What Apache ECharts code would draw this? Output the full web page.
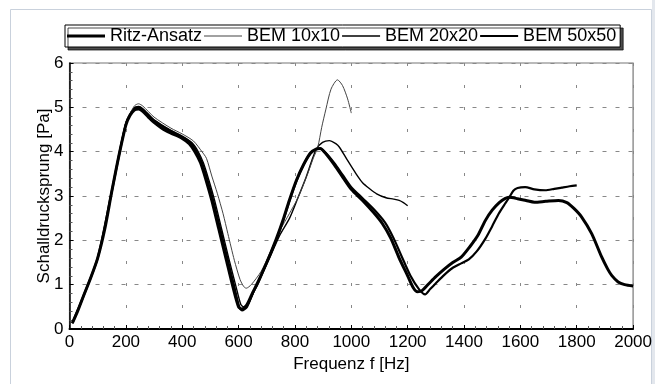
<!DOCTYPE html>
<html>
<head>
<meta charset="utf-8">
<script src="https://cdn.jsdelivr.net/npm/echarts@6/dist/echarts.min.js"></script>
<style>
  html, body { margin: 0; padding: 0; background: #fff; }
  #chart { width: 655px; height: 384px; }
</style>
</head>
<body>
<div id="chart"></div>
<script>
// Schalldrucksprung über Frequenz, [f in Hz, Wert in Pa]
var ritzAnsatz = [
  [10,0.13],[30,0.42],[50,0.75],[75,1.15],[100,1.6],[125,2.25],[150,3.1],[175,3.9],[200,4.6],
  [215,4.82],[230,4.94],[245,4.96],[260,4.91],[280,4.78],[300,4.66],[330,4.52],[360,4.42],
  [400,4.3],[425,4.18],[445,4.0],[465,3.75],[485,3.35],[505,2.9],[530,2.25],[555,1.6],
  [580,0.95],[600,0.5],[612,0.45],[630,0.55],[650,0.82],[668,1.05],[700,1.5],[733,2.02],
  [760,2.5],[780,2.9],[805,3.35],[830,3.7],[855,3.97],[875,4.06],[890,4.07],[910,3.95],
  [940,3.7],[970,3.42],[1000,3.15],[1040,2.9],[1080,2.62],[1110,2.38],[1140,2.05],[1170,1.6],
  [1200,1.2],[1220,0.93],[1235,0.84],[1250,0.86],[1275,1.02],[1300,1.18],[1330,1.35],
  [1360,1.5],[1390,1.62],[1420,1.85],[1450,2.12],[1476,2.45],[1500,2.68],[1525,2.85],
  [1545,2.94],[1560,2.97],[1590,2.94],[1620,2.9],[1650,2.86],[1690,2.88],[1735,2.9],
  [1765,2.85],[1790,2.72],[1817,2.53],[1853,2.15],[1888,1.63],[1910,1.35],[1924,1.21],
  [1947,1.06],[1970,1.0],[2000,0.97]
];
var bem10 = [
  [10,0.13],[50,0.75],[100,1.6],[150,3.1],[200,4.66],[230,5.03],[245,5.08],[260,5.03],
  [300,4.78],[360,4.53],[400,4.4],[440,4.24],[470,4.0],[486,3.85],[505,3.45],[525,3.05],
  [545,2.6],[562,2.15],[585,1.55],[605,1.12],[618,0.96],[627,0.92],[645,1.0],[680,1.3],
  [710,1.7],[745,2.2],[780,2.6],[810,2.95],[845,3.5],[865,3.85],[881,4.1],[895,4.55],
  [910,4.96],[928,5.41],[951,5.62],[969,5.49],[987,5.19],[1000,4.87]
];
var bem20 = [
  [10,0.13],[50,0.75],[100,1.6],[150,3.1],[200,4.64],[230,4.99],[245,5.02],[260,4.97],
  [300,4.72],[360,4.48],[400,4.35],[435,4.2],[455,4.02],[475,3.75],[495,3.35],[515,2.9],
  [540,2.25],[565,1.6],[590,0.98],[608,0.55],[618,0.5],[635,0.58],[655,0.85],[680,1.2],
  [710,1.6],[745,2.1],[781,2.5],[810,2.95],[840,3.43],[860,3.8],[876,4.06],[898,4.21],
  [922,4.25],[945,4.18],[958,4.1],[985,3.82],[1017,3.5],[1040,3.3],[1064,3.17],[1090,3.05],
  [1123,2.96],[1150,2.93],[1170,2.9],[1185,2.85],[1200,2.78]
];
var bem50 = [
  [10,0.13],[50,0.75],[100,1.6],[150,3.1],[200,4.62],[230,4.97],[245,5.0],[260,4.95],
  [300,4.7],[360,4.46],[400,4.33],[430,4.2],[450,4.02],[470,3.75],[490,3.35],[510,2.9],
  [535,2.25],[560,1.6],[585,0.95],[603,0.48],[612,0.42],[630,0.5],[650,0.8],[668,1.02],
  [700,1.5],[733,2.0],[760,2.48],[780,2.88],[805,3.33],[830,3.7],[855,3.96],[875,4.05],
  [888,4.07],[910,3.97],[940,3.74],[970,3.47],[1000,3.2],[1040,2.95],[1080,2.7],[1120,2.4],
  [1150,2.05],[1180,1.62],[1210,1.2],[1240,0.9],[1262,0.78],[1280,0.9],[1300,1.03],
  [1330,1.22],[1358,1.37],[1390,1.48],[1417,1.57],[1445,1.75],[1476,2.04],[1500,2.32],
  [1523,2.6],[1545,2.82],[1560,2.96],[1575,3.12],[1590,3.18],[1617,3.2],[1650,3.15],
  [1688,3.13],[1720,3.16],[1747,3.19],[1775,3.22],[1800,3.24]
];
var seriesNames = ['Ritz-Ansatz', 'BEM 10x10', 'BEM 20x20', 'BEM 50x50'];
var lineWidths = [3, 1, 1.4, 2.2];
var lineColors = ['#000', '#444', '#000', '#000'];

var font = 'Liberation Sans, Arial, sans-serif';
var chart = echarts.init(document.getElementById('chart'));

function curve(i, data, z) {
  return {
    name: seriesNames[i], type: 'line', data: data,
    symbol: 'none', showSymbol: false, smooth: 0.25, z: z,
    lineStyle: { color: lineColors[i], width: lineWidths[i] },
    itemStyle: { color: lineColors[i] }
  };
}

// Legenden-Symbol: reiner Strich in Linienstärke der Kurve
var legendData = seriesNames.map(function (n, i) {
  return {
    name: n,
    icon: 'path://M0,0H38V' + lineWidths[i] + 'H0Z',
    itemStyle: { color: lineColors[i] }
  };
});

var option = {
  animation: false,
  backgroundColor: '#fff',
  textStyle: { fontFamily: font },
  graphic: [
    // äußerer Rahmen
    { type: 'rect', silent: true, shape: { x: 10.5, y: 9.5, width: 641, height: 400 },
      style: { fill: 'none', stroke: '#c9d1dc', lineWidth: 1 } },
    { type: 'rect', silent: true, shape: { x: 652, y: 0, width: 3, height: 384 },
      style: { fill: '#e3e7ed' } }
  ],
  legend: {
    data: legendData,
    left: 65, top: 25,
    padding: [2, 4, 2, 2],
    itemGap: 2, itemWidth: 38, itemHeight: 14,
    backgroundColor: '#fff',
    borderColor: '#000', borderWidth: 1,
    shadowColor: 'rgba(0,0,0,0.7)', shadowOffsetX: 3, shadowOffsetY: 3, shadowBlur: 0,
    textStyle: { fontSize: 18, color: '#000', fontFamily: font }
  },
  grid: {
    left: 69.5, right: 20.5, top: 63, bottom: 55,
    show: true, borderColor: '#777', borderWidth: 1.2
  },
  xAxis: {
    type: 'value', min: 0, max: 2000, interval: 200,
    name: 'Frequenz f [Hz]', nameLocation: 'middle', nameGap: 27,
    nameMoveOverlap: false,
    nameTextStyle: { fontSize: 17, color: '#000' },
    axisLine: { show: true, lineStyle: { color: '#000', width: 2 } },
    axisTick: { show: true, inside: true, length: 4, lineStyle: { color: '#000' } },
    minorTick: { show: true, splitNumber: 5, length: 3, lineStyle: { color: '#555' } },
    axisLabel: { fontSize: 17, color: '#000', margin: 5,
      formatter: function (v) { return String(v); } },
    splitLine: { show: true, lineStyle: { color: '#888', type: [3, 19], width: 1 } }
  },
  yAxis: {
    type: 'value', min: 0, max: 6, interval: 1,
    name: 'Schalldrucksprung [Pa]', nameLocation: 'middle', nameGap: 17,
    nameMoveOverlap: false,
    nameTextStyle: { fontSize: 17, color: '#000' },
    axisLine: { show: true, lineStyle: { color: '#000', width: 1.5 } },
    axisTick: { show: true, inside: true, length: 4, lineStyle: { color: '#000' } },
    minorTick: { show: true, splitNumber: 5, length: 3, lineStyle: { color: '#555' } },
    axisLabel: { fontSize: 17, color: '#000', margin: 6 },
    splitLine: { show: true, lineStyle: { color: '#888', type: [4, 9], width: 1 } }
  },
  series: [
    curve(0, ritzAnsatz, 4),
    curve(1, bem10, 3),
    curve(2, bem20, 2),
    curve(3, bem50, 1)
  ]
};
chart.setOption(option);
</script>
</body>
</html>
